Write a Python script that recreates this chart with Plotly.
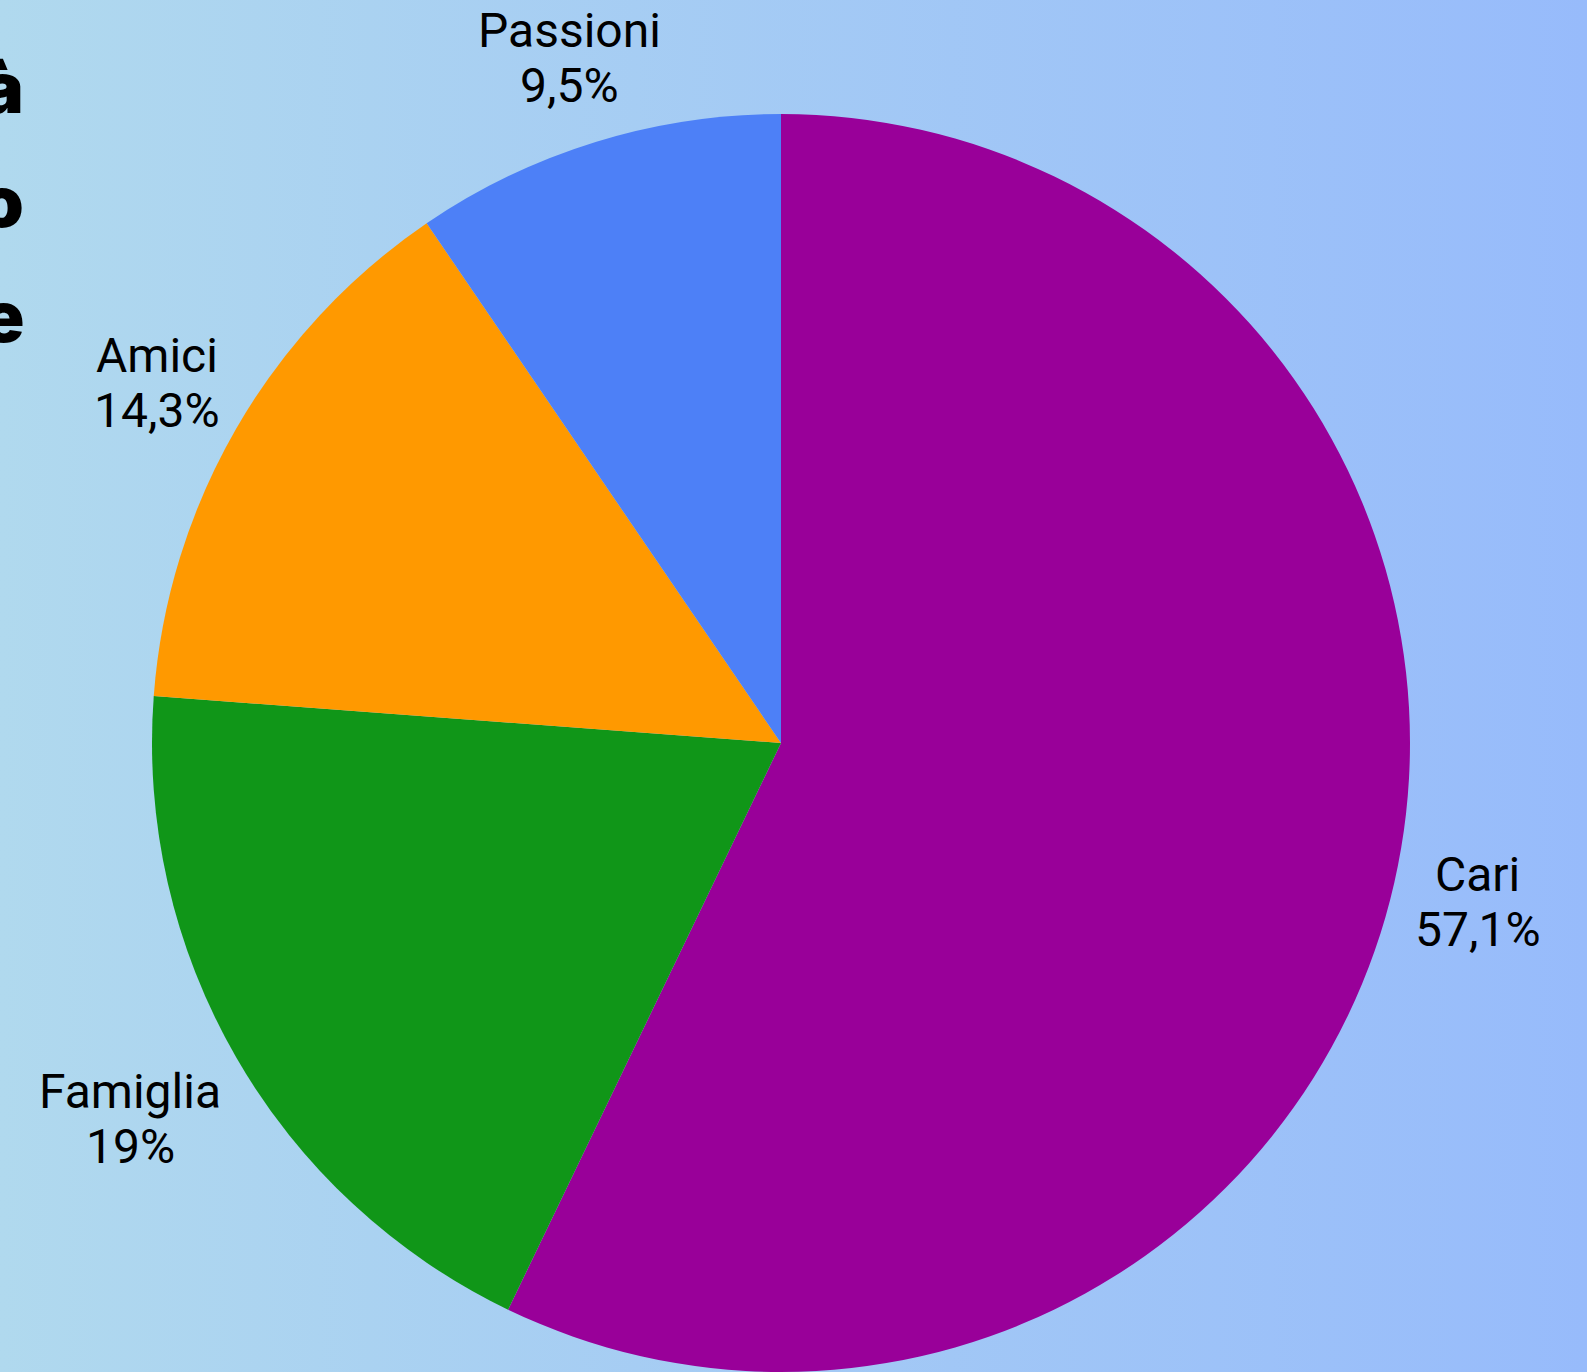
import math
import plotly.graph_objects as go

W, H = 1587, 1372

labels = ["Cari", "Famiglia", "Amici", "Passioni"]
values = [12, 4, 3, 2]
colors = ["#990099", "#109618", "#FF9900", "#4D80F7"]

title_fragments = ["à", "o", "e"]

bg_left = "#B0D9EE"
bg_right = "#97BBFB"

# layout styling (pixels)
cx, cy, r = 781, 743, 629
label_font_size = 48
label_line_pitch = 55
label_gap = 17
frag_font_size = 70
frag_right_px = 26
frag_first_center_px = 88
frag_pitch_px = 114


def fmt_pct(frac):
    s = f"{frac * 100:.1f}"
    if s.endswith(".0"):
        s = s[:-2]
    return s.replace(".", ",") + "%"


fig = go.Figure()

# gradient background
fig.add_trace(go.Scatter(
    x=[0, 1, 1, 0, 0], y=[0, 0, 1, 1, 0],
    mode="lines", fill="toself",
    line=dict(width=0),
    fillgradient=dict(type="horizontal", colorscale=[[0, bg_left], [1, bg_right]]),
    hoverinfo="skip", showlegend=False,
))

fig.add_trace(go.Pie(
    labels=labels, values=values, sort=False, direction="clockwise", rotation=0,
    marker=dict(colors=colors, line=dict(width=0)),
    textinfo="none",
    domain=dict(x=[(cx - r) / W, (cx + r) / W], y=[max(0, (H - cy - r) / H), (H - cy + r) / H]),
    hoverinfo="skip", showlegend=False,
))

# outside labels placed radially from each slice's mid-angle
total = sum(values)
cum = 0
for lab, v in zip(labels, values):
    mid = (cum + v / 2) / total * 2 * math.pi
    cum += v
    pct = fmt_pct(v / total)
    s, c = math.sin(mid), -math.cos(mid)  # screen dx, dy (down positive)
    nchar = max(len(lab), len(pct))
    hw = 0.25 * label_font_size * nchar
    hh = 45
    d = r + label_gap + abs(s) * hw + abs(c) * hh
    px_x = cx + d * s
    px_y = cy + d * c
    for line, off in ((lab, -label_line_pitch / 2), (pct, label_line_pitch / 2)):
        fig.add_annotation(
            text=line, xref="paper", yref="paper",
            x=px_x / W, y=1 - (px_y + off) / H,
            xanchor="center", yanchor="middle", showarrow=False,
            font=dict(family="Roboto", size=label_font_size, color="#000000"),
        )

# partially visible heavy title glyphs at left edge
for i, g in enumerate(title_fragments):
    fig.add_annotation(
        text=g, xref="paper", yref="paper",
        x=frag_right_px / W, y=1 - (frag_first_center_px + i * frag_pitch_px) / H,
        xanchor="right", yanchor="middle", showarrow=False,
        font=dict(family="Inter", size=frag_font_size, color="#000000", weight=900),
    )

fig.update_layout(
    width=W, height=H,
    margin=dict(l=0, r=0, t=0, b=0),
    paper_bgcolor=bg_left, plot_bgcolor="rgba(0,0,0,0)",
    xaxis=dict(visible=False, range=[0, 1], fixedrange=True),
    yaxis=dict(visible=False, range=[0, 1], fixedrange=True),
    showlegend=False,
)

fig.write_html(
    "out.html",
    config=dict(displayModeBar=False),
    post_script="document.body.style.margin='0';document.body.style.overflow='hidden';",
)
